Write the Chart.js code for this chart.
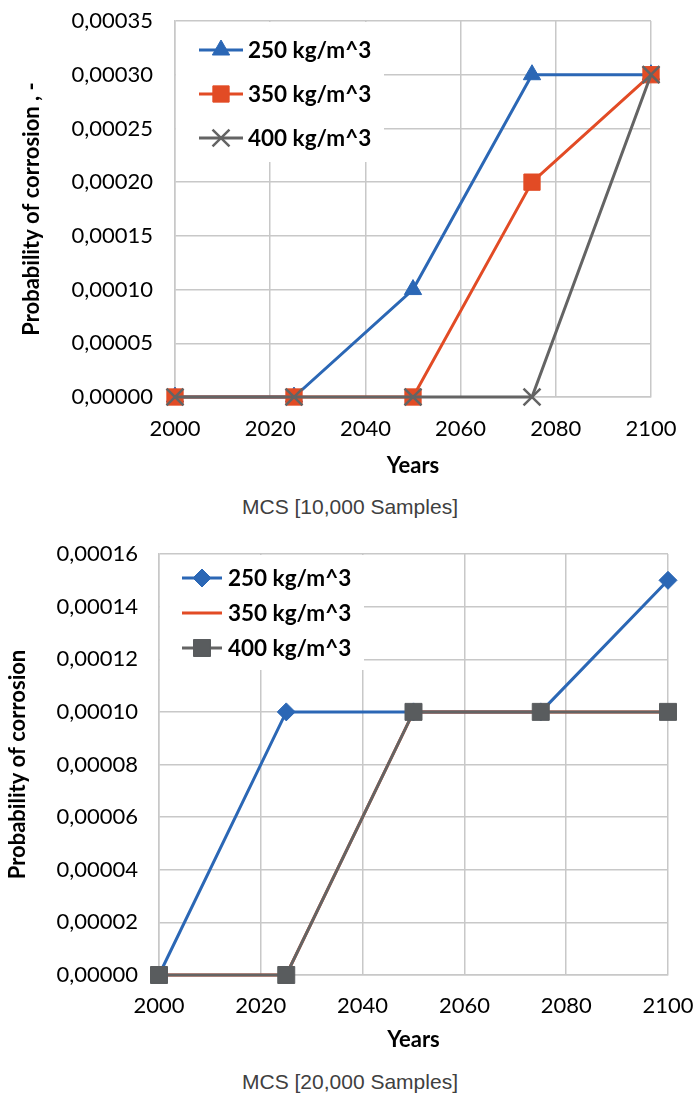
<!DOCTYPE html>
<html>
<head>
<meta charset="utf-8">
<script src="https://cdn.jsdelivr.net/npm/chart.js@4.4.1/dist/chart.umd.min.js"></script>
<style>
  body { margin: 0; background: #fff; width: 695px; height: 1095px; position: relative; overflow: hidden; }
  canvas { position: absolute; left: 0; }
  .cap { position: absolute; left: 0; width: 700px; text-align: center; font-family: "Liberation Sans", Arial, sans-serif; font-size: 21px; line-height: 24px; color: #404040; }
</style>
</head>
<body>
<canvas id="c1" width="695" height="480" style="top:0"></canvas>
<div class="cap" style="top:495px">MCS [10,000 Samples]</div>
<canvas id="c2" width="695" height="530" style="top:530px"></canvas>
<div class="cap" style="top:1070px">MCS [20,000 Samples]</div>
<script>
// data
const years = [2000, 2025, 2050, 2075, 2100];
const seriesNames = ['250 kg/m^3', '350 kg/m^3', '400 kg/m^3'];

// MCS 10,000 samples
const top250 = [0, 0, 0.0001, 0.0003, 0.0003];
const top350 = [0, 0, 0, 0.0002, 0.0003];
const top400 = [0, 0, 0, 0, 0.0003];

// MCS 20,000 samples
const bot250 = [0, 0.0001, 0.0001, 0.0001, 0.00015];
const bot350 = [0, 0, 0.0001, 0.0001, 0.0001];
const bot400 = [0, 0, 0.0001, 0.0001, 0.0001];

const xTicks = [2000, 2020, 2040, 2060, 2080, 2100];
const yTicksTop = [0, 0.00005, 0.0001, 0.00015, 0.0002, 0.00025, 0.0003, 0.00035];
const yTicksBot = [0, 0.00002, 0.00004, 0.00006, 0.00008, 0.0001, 0.00012, 0.00014, 0.00016];

const BLUE = '#2b67b5', RED = '#e24b25', GRAY = '#646464', GRAY_FILL = '#595c5e';
const GRID = '#c8c8c8';
const FONT = 'Lato, "Noto Sans", sans-serif';

const pts = (vals) => years.map((x, i) => ({ x: x, y: vals[i] }));

// legend drawn inside the plot area, on a white box
const inLegend = {
  id: 'inLegend',
  afterDraw(chart, args, opts) {
    const ctx = chart.ctx;
    const a = chart.chartArea;
    ctx.save();
    ctx.fillStyle = '#fff';
    ctx.fillRect(a.left + 1, a.top + 1, opts.w, opts.h);
    chart.data.datasets.forEach((ds, i) => {
      const y = a.top + opts.rows[i];
      ctx.strokeStyle = ds.borderColor;
      ctx.lineWidth = 3;
      ctx.beginPath();
      ctx.moveTo(a.left + opts.x0, y);
      ctx.lineTo(a.left + opts.x1, y);
      ctx.stroke();
      if (ds.pointRadius > 0) {
        ctx.fillStyle = ds.pointBackgroundColor;
        ctx.strokeStyle = ds.pointBorderColor;
        ctx.lineWidth = ds.pointBorderWidth;
        Chart.helpers.drawPoint(ctx, {
          pointStyle: ds.pointStyle, radius: ds.legendRadius || ds.pointRadius,
          rotation: 0, borderWidth: ds.pointBorderWidth
        }, a.left + (opts.x0 + opts.x1) / 2, y);
      }
      ctx.fillStyle = '#000';
      ctx.font = 'bold 22.5px ' + FONT;
      ctx.textBaseline = 'middle';
      ctx.fillText(seriesNames[i], a.left + opts.tx, y + 1);
    });
    ctx.restore();
  }
};

function makeChart(id, sets, yTicks, cfg) {
  return new Chart(document.getElementById(id), {
    type: 'line',
    data: { datasets: sets },
    plugins: [inLegend],
    options: {
      responsive: false,
      animation: false,
      layout: { padding: { top: cfg.top, right: cfg.right, left: 0, bottom: 0 } },
      plugins: { legend: { display: false }, tooltip: { enabled: false }, inLegend: cfg.legend },
      scales: {
        x: {
          type: 'linear', min: 2000, max: 2100,
          afterBuildTicks: s => { s.ticks = xTicks.map(v => ({ value: v })); },
          afterFit: s => { s.height = cfg.xh; s.paddingLeft = 0; s.paddingRight = 0; },
          grid: { color: GRID, lineWidth: 1.5, drawTicks: false },
          border: { color: GRID, width: 1.5 },
          ticks: { color: '#000', font: { family: FONT, size: 22 }, padding: cfg.xpad, maxRotation: 0, callback: v => String(v) },
          title: { display: true, text: 'Years', color: '#000', font: { family: FONT, size: 22, weight: 'bold' }, padding: { top: 0, bottom: cfg.ytitleb } }
        },
        y: {
          min: 0, max: yTicks[yTicks.length - 1],
          afterBuildTicks: s => { s.ticks = yTicks.map(v => ({ value: v })); },
          afterFit: s => { s.width = cfg.yw; s.paddingTop = 0; s.paddingBottom = 0; },
          grid: { color: GRID, lineWidth: 1.5, drawTicks: false },
          border: { color: GRID, width: 1.5 },
          ticks: { color: '#000', font: { family: FONT, size: 22 }, padding: cfg.ypad, callback: v => v.toFixed(5).replace('.', ',') },
          title: { display: true, text: cfg.ytitle, color: '#000', font: { family: FONT, size: 22, weight: 'bold' }, padding: { top: cfg.ytitlex, bottom: 0 } }
        }
      }
    }
  });
}

makeChart('c1', [
  { data: pts(top250), borderColor: BLUE, borderWidth: 3, pointStyle: 'triangle', pointRadius: 10, clip: false,
    pointBackgroundColor: BLUE, pointBorderColor: BLUE, pointBorderWidth: 1, order: 2 },
  { data: pts(top350), borderColor: RED, borderWidth: 3, pointStyle: 'rect', pointRadius: 11.5, clip: false,
    pointBackgroundColor: RED, pointBorderColor: RED, pointBorderWidth: 1, order: 1 },
  { data: pts(top400), borderColor: GRAY, borderWidth: 3, pointStyle: 'crossRot', pointRadius: 12, clip: false,
    pointBackgroundColor: GRAY, pointBorderColor: GRAY, pointBorderWidth: 2.5, order: 0 }
], yTicksTop, {
  top: 21, right: 44, xh: 83, yw: 175, xpad: 19, ypad: 22, ytitleb: 1, ytitlex: 19,
  ytitle: 'Probability of corrosion , -',
  legend: { w: 208, h: 140, rows: [29, 73, 117], x0: 24, x1: 68, tx: 73 }
});

makeChart('c2', [
  { data: pts(bot250), borderColor: BLUE, borderWidth: 3, pointStyle: 'rectRot', pointRadius: 9, clip: false,
    pointBackgroundColor: BLUE, pointBorderColor: BLUE, pointBorderWidth: 1, order: 2 },
  { data: pts(bot350), borderColor: RED, borderWidth: 3, pointRadius: 0, clip: false, order: 1 },
  { data: pts(bot400), borderColor: GRAY, borderWidth: 3, pointStyle: 'rect', pointRadius: 12, clip: false,
    pointBackgroundColor: GRAY_FILL, pointBorderColor: GRAY_FILL, pointBorderWidth: 1, order: 0 }
], yTicksBot, {
  top: 24, right: 27, xh: 85, yw: 159, xpad: 18, ypad: 21, ytitleb: 7, ytitlex: 5,
  ytitle: 'Probability of corrosion',
  legend: { w: 204, h: 115, rows: [24, 59, 94], x0: 23, x1: 63, tx: 69 }
});
</script>
</body>
</html>
